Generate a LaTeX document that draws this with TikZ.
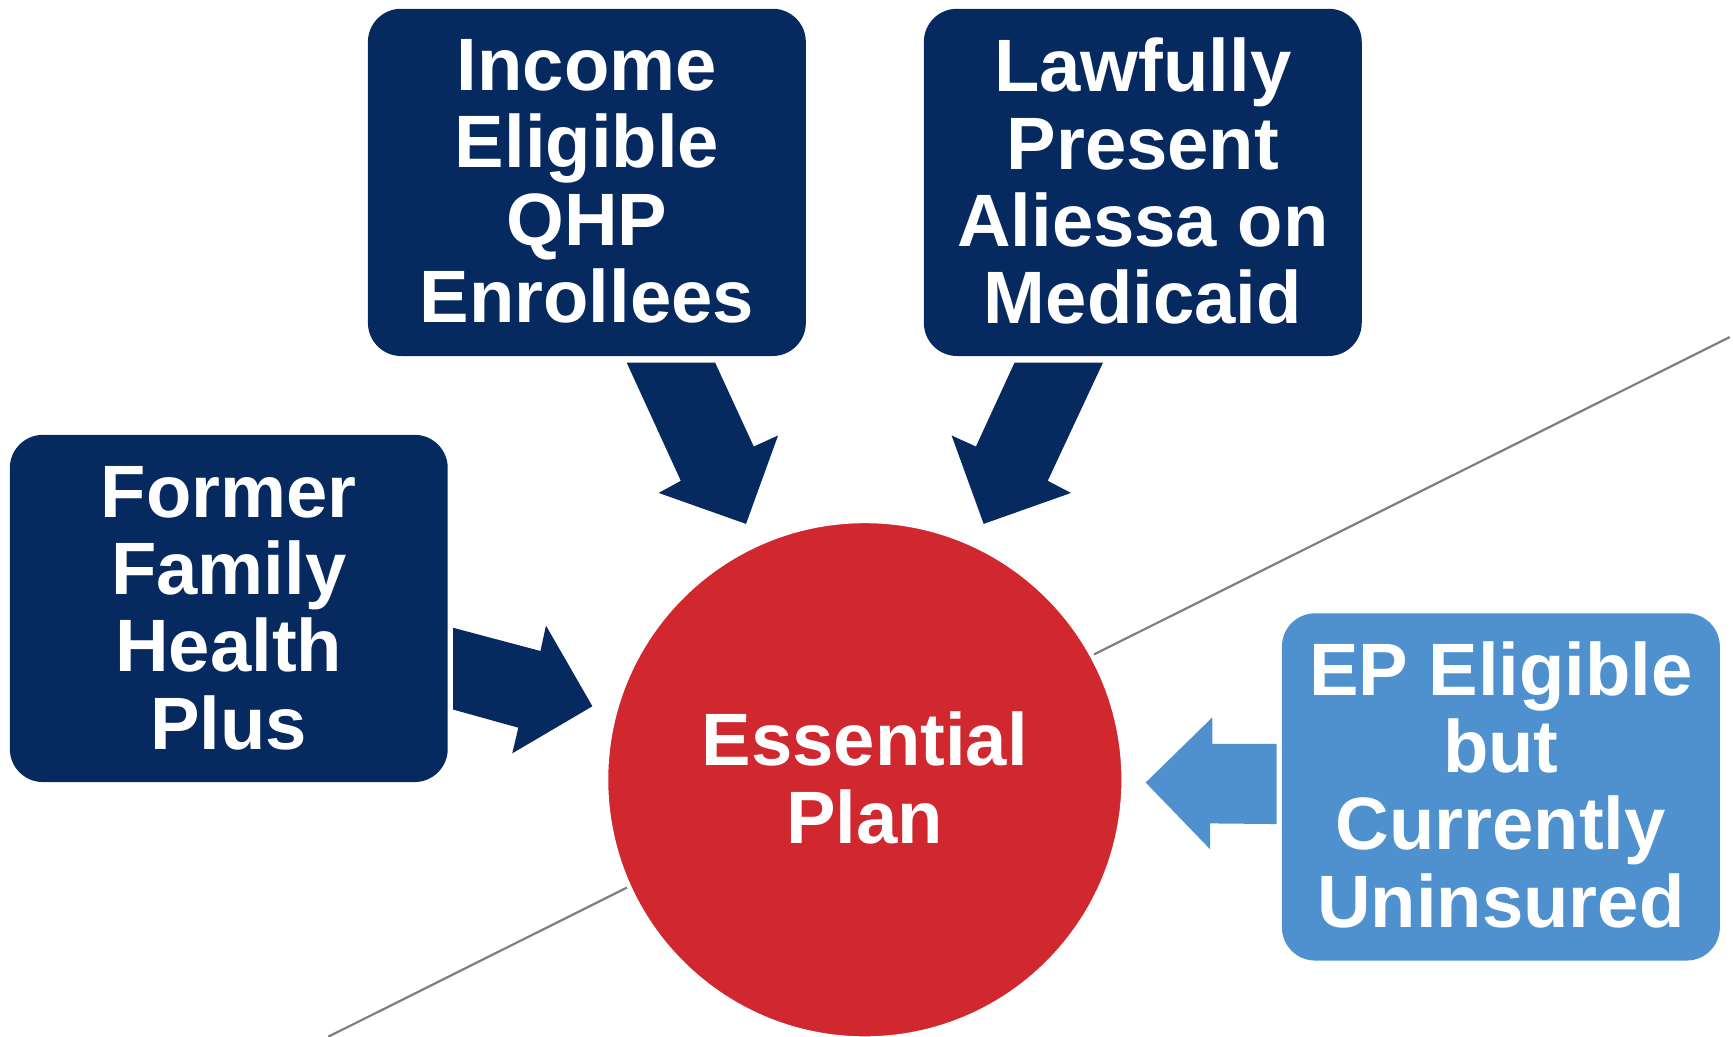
\documentclass[tikz,border=0pt]{standalone}
\usepackage{fontspec}
\setmainfont{Liberation Sans}
\definecolor{navy}{HTML}{062A60}
\definecolor{epred}{HTML}{D0282E}
\definecolor{skyblue}{HTML}{4E91CE}
\definecolor{linegray}{HTML}{7F7F7F}
\begin{document}
\begin{tikzpicture}[x=0.01cm,y=-0.01cm,
  box/.style={rectangle, rounded corners=0.3cm, minimum width=3.96cm, minimum height=3.14cm, inner sep=0pt},
  lbl/.style={text=white, align=center, inner sep=0pt, font=\fontsize{19.1}{19.9}\selectfont\bfseries},
  blockarrow/.style={draw=none}]
\useasboundingbox (0,0) rectangle (1568,938);
% decorative line behind the circle
\coordinate (lineA) at (1565,305);
\coordinate (lineB) at (297,938);
\draw[linegray, line width=0.02cm] (lineA) -- (lineB);
% boxes
\node[box, fill=navy] (income) at (531,165) {};
\node[lbl] (incomeT) at (531,164) {Income\\Eligible\\QHP\\Enrollees};
\node[box, fill=navy] (lawful) at (1034,165) {};
\node[lbl] (lawfulT) at (1034,164) {Lawfully\\Present\\Aliessa on\\Medicaid};
\node[box, fill=navy] (former) at (207,550.5) {};
\node[lbl] (formerT) at (207,550) {Former\\Family\\Health\\Plus};
\node[box, fill=skyblue] (epelig) at (1358,712) {};
\node[lbl] (epeligT) at (1358,710) {EP Eligible\\but\\Currently\\Uninsured};
% circle
\node[circle, fill=epred, draw=white, line width=0.04cm, minimum size=4.68cm, inner sep=0pt] (ep) at (782.5,705.5) {};
\node[lbl] (epT) at (782.5,704) {Essential\\Plan};
% block arrows
\fill[navy, blockarrow] (567,328) -- (647,328) -- (682,404) -- (704,394) -- (675,474) -- (596,446) -- (616,435) -- cycle;
\fill[navy, blockarrow] (918,328) -- (998,328) -- (948,435) -- (969,446) -- (890,474) -- (861,394) -- (883,404) -- cycle;
\fill[navy, blockarrow] (410,568) -- (489,589) -- (494,566) -- (536,639) -- (463.5,681.6) -- (469,658.4) -- (410,642) -- cycle;
\fill[skyblue, blockarrow] (1155,673) -- (1097,673) -- (1097,649) -- (1036.6,708) -- (1095,768.5) -- (1095,745) -- (1155,745.6) -- cycle;
\end{tikzpicture}
\end{document}
